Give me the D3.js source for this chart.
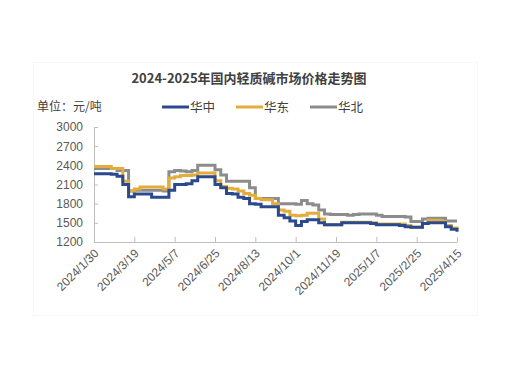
<!DOCTYPE html>
<html>
<head>
<meta charset="utf-8">
<script src="https://cdn.jsdelivr.net/npm/d3@7"></script>
<style>
  body { margin: 0; background: #fff; }
  svg { display: block; font-family: "Noto Sans CJK SC", "Noto Sans", sans-serif; }
</style>
</head>
<body>
<div class="container"></div>
<script>
// DATA — weekly prices (元/吨), starting 2024/1/30
const startDate = "2024/1/30";
const seriesNames = ["华中", "华东", "华北"];
const central = [2270, 2270, 2270, 2260, 2230, 2100, 1910, 1950, 1950, 1950, 1900, 1900, 1900, 2010, 2100, 2100,
  2110, 2160, 2220, 2220, 2220, 2100, 2050, 1960, 1950, 1900, 1880, 1800, 1790, 1750, 1750, 1750,
  1620, 1580, 1530, 1460, 1520, 1550, 1550, 1500, 1470, 1470, 1470, 1500, 1500, 1500, 1500, 1500,
  1490, 1470, 1470, 1470, 1470, 1460, 1440, 1430, 1430, 1490, 1500, 1500, 1500, 1440, 1400, 1360];
const east = [2380, 2380, 2380, 2350, 2350, 2150, 2000, 2030, 2060, 2060, 2060, 2060, 2030, 2200, 2220, 2240,
  2240, 2250, 2280, 2280, 2280, 2160, 2070, 2040, 2030, 2000, 1960, 1930, 1880, 1860, 1860, 1800,
  1700, 1680, 1620, 1610, 1620, 1650, 1650, 1560, 1470, 1470, 1470, 1510, 1510, 1510, 1510, 1510,
  1500, 1480, 1480, 1480, 1480, 1480, 1460, 1430, 1430, 1490, 1540, 1540, 1520, 1460, 1420, 1380];
const north = [2350, 2350, 2350, 2350, 2320, 2320, 2000, 2010, 2010, 2010, 2010, 2010, 2000, 2300, 2320, 2310,
  2300, 2320, 2400, 2400, 2400, 2330, 2250, 2150, 2150, 2150, 2150, 2050, 1880, 1880, 1880, 1880,
  1800, 1800, 1800, 1790, 1850, 1800, 1780, 1700, 1640, 1630, 1630, 1630, 1620, 1630, 1640, 1640,
  1640, 1620, 1600, 1600, 1600, 1600, 1590, 1520, 1520, 1560, 1570, 1570, 1570, 1530, 1530, 1530];
const colors = ["#2b4a8e", "#e3ad3b", "#8c8c8c"];
const yTicks = [1200, 1500, 1800, 2100, 2400, 2700, 3000];
const xTickLabels = ["2024/1/30", "2024/3/19", "2024/5/7", "2024/6/25", "2024/8/13", "2024/10/1",
  "2024/11/19", "2025/1/7", "2025/2/25", "2025/4/15"];

// SETUP
const W = 520, H = 369;
const margin = { top: 127, right: 63, bottom: 127, left: 94 };
const width = W - margin.left - margin.right,
      height = H - margin.top - margin.bottom;

const parse = d3.timeParse("%Y/%-m/%-d");
const start = parse(startDate);
const dates = central.map((d, i) => d3.timeDay.offset(start, 7 * i));
const tickDates = xTickLabels.map(parse);

const svg = d3.select("div.container")
  .append("svg")
  .attr("width", W)
  .attr("height", H);

// very faint frame around the chart
svg.append("rect")
  .attr("x", 33.5).attr("y", 62.5)
  .attr("width", 444).attr("height", 253)
  .attr("fill", "none")
  .attr("stroke", "#f7f7f7");

svg.append("text")
  .attr("x", 249)
  .attr("y", 83)
  .attr("text-anchor", "middle")
  .attr("font-size", 13)
  .attr("font-weight", "bold")
  .attr("fill", "#404040")
  .text("2024-2025年国内轻质碱市场价格走势图");

svg.append("text")
  .attr("x", 37)
  .attr("y", 111)
  .attr("font-size", 12)
  .attr("fill", "#404040")
  .text("单位：元/吨");

// legend
const legendX = [162, 236, 310];
const legend = svg.append("g");
seriesNames.forEach((name, i) => {
  legend.append("line")
    .attr("x1", legendX[i]).attr("x2", legendX[i] + 27)
    .attr("y1", 107).attr("y2", 107)
    .attr("stroke", colors[i])
    .attr("stroke-width", 3);
  legend.append("text")
    .attr("x", legendX[i] + 28)
    .attr("y", 111.5)
    .attr("font-size", 12.5)
    .attr("fill", "#404040")
    .text(name);
});

const g = svg.append("g")
  .attr("transform", `translate(${margin.left}, ${margin.top})`);

const x = d3.scaleTime()
  .domain([start, tickDates[tickDates.length - 1]])
  .range([0, width]);

const y = d3.scaleLinear()
  .domain([1200, 3000])
  .range([height, 0]);

// y axis
const yAxis = g.append("g")
  .call(d3.axisLeft(y).tickValues(yTicks).tickSize(-4).tickPadding(11).tickFormat(d3.format("d")));
yAxis.select(".domain").attr("stroke", "#bfbfbf");
yAxis.selectAll(".tick line").attr("stroke", "#bfbfbf");
yAxis.selectAll("text")
  .attr("font-size", 12)
  .attr("fill", "#595959")
  .attr("font-family", "'Liberation Sans', Arial, sans-serif");

// x axis
const xAxis = g.append("g")
  .attr("transform", `translate(0, ${height})`)
  .call(d3.axisBottom(x).tickValues(tickDates).tickSize(-5).tickSizeOuter(0).tickFormat((d, i) => xTickLabels[i]));
xAxis.select(".domain").attr("stroke", "#bfbfbf");
xAxis.selectAll(".tick line").attr("stroke", "#bfbfbf");
xAxis.selectAll("text")
  .attr("font-size", 12)
  .attr("fill", "#595959")
  .attr("font-family", "'Liberation Sans', Arial, sans-serif")
  .attr("text-anchor", "end")
  .attr("dy", null)
  .attr("y", 0)
  .attr("transform", "translate(5, 12) rotate(-45)");

// lines
const line = d3.line()
  .x((d, i) => x(dates[i]))
  .y(d => y(d))
  .curve(d3.curveStepAfter);

[north, east, central].forEach((s, k) => {
  const idx = 2 - k;
  g.append("path")
    .datum(s)
    .attr("fill", "none")
    .attr("stroke", colors[idx])
    .attr("stroke-width", 3)
    .attr("d", line);
});
</script>
</body>
</html>
